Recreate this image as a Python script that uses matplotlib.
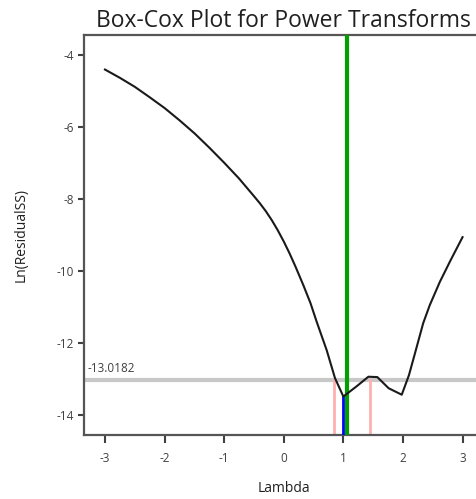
import matplotlib
matplotlib.use("Agg")
import matplotlib.pyplot as plt

# box-cox profile: lambda vs ln(residual SS)
lam = [-3.0, -2.75, -2.5, -2.25, -2.0, -1.75, -1.5, -1.25, -1.0, -0.75,
       -0.5, -0.4, -0.3, -0.2, -0.1, 0.0, 0.1, 0.2, 0.33, 0.45, 0.55,
       0.72, 0.86, 1.0, 1.22, 1.42, 1.57, 1.76, 1.98, 2.1, 2.2, 2.34,
       2.45, 2.62, 2.8, 3.0]
lnss = [-4.40, -4.63, -4.88, -5.17, -5.47, -5.81, -6.17, -6.57, -6.99, -7.43,
        -7.92, -8.12, -8.34, -8.59, -8.87, -9.18, -9.52, -9.89, -10.40,
        -10.90, -11.40, -12.20, -12.98, -13.49, -13.21, -12.94, -12.95,
        -13.26, -13.44, -12.9, -12.3, -11.45, -10.95, -10.30, -9.70, -9.06]

best_lam = 1.0        # minimum of the curve
chosen_lam = 1.06     # green line
ci_low, ci_high = 0.84, 1.45
threshold = -13.0182

xticks = [-3, -2, -1, 0, 1, 2, 3]
yticks = [-4, -6, -8, -10, -12, -14]

plt.rcParams['font.family'] = ['Open Sans', 'DejaVu Sans']
plt.rcParams['axes.unicode_minus'] = False

fig = plt.figure(figsize=(4.76, 4.99), dpi=100)
ax = fig.add_axes([83.5 / 476, 64 / 499, 400.5 / 476, 400 / 499])

ymin, ymax = -14.56, -3.44
ax.set_xlim(-3.36, 3.36)
ax.set_ylim(ymin, ymax)

# threshold line and its label
ax.axhline(threshold, color='#c8c8c8', lw=3, zorder=1)
ax.text(-3.3, threshold + 0.12, '%.4f' % threshold, fontsize=8.5,
        color='#404040', va='bottom', ha='left')

# confidence interval lines (bottom up to threshold)
ax.plot([ci_low, ci_low], [ymin, threshold], color='#ffb0b0', lw=2, zorder=2)
ax.plot([ci_high, ci_high], [ymin, threshold], color='#ffb0b0', lw=2, zorder=2)

# best lambda (blue), chosen lambda (green)
ax.plot([best_lam, best_lam], [ymin, min(lnss)], color='#0000ff', lw=2, zorder=3)
ax.axvline(chosen_lam, color='#00a000', lw=3, zorder=3)

ax.plot(lam, lnss, color='#1a1a1a', lw=1.5, zorder=4)

ax.set_xticks(xticks)
ax.set_yticks(yticks)
ax.tick_params(axis='both', labelsize=8.5, labelcolor='#404040',
               color='#404040', width=1.5, direction='out')
ax.tick_params(axis='x', length=6, pad=6)
ax.tick_params(axis='y', length=4, pad=3)

for s in ax.spines.values():
    s.set_color('#555555')
    s.set_linewidth(1.6)

ax.set_xlabel('Lambda', fontsize=10, color='#202020', labelpad=12)
ax.set_ylabel('Ln(ResidualSS)', fontsize=10, color='#202020', labelpad=20)
ax.set_title('Box-Cox Plot for Power Transforms', fontsize=16.5, color='#202020', pad=6)

fig.savefig('out.png', dpi=100)
